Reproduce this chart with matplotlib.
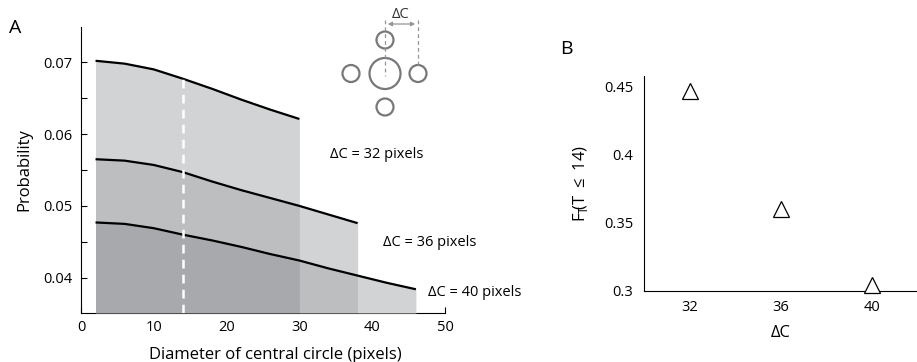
import matplotlib
matplotlib.use("Agg")
import matplotlib.pyplot as plt
from matplotlib.patches import Circle, FancyArrowPatch
import numpy as np

plt.rcParams['font.family'] = ['Open Sans', 'DejaVu Sans']
plt.rcParams['font.size'] = 10.5
plt.rcParams['mathtext.fontset'] = 'custom'
plt.rcParams['mathtext.rm'] = 'Open Sans'

# Panel A: probability vs diameter of the central circle, one curve per spacing
diam_32 = [2, 6, 10, 14, 18, 22, 26, 30]
prob_32 = [0.0702, 0.0698, 0.0690, 0.0677, 0.0663, 0.0648, 0.0634, 0.0621]
diam_36 = [2, 6, 10, 14, 18, 22, 26, 30, 34, 38]
prob_36 = [0.0565, 0.0563, 0.0557, 0.0547, 0.0534, 0.0522, 0.0511, 0.0500, 0.0488, 0.0476]
diam_40 = [2, 6, 10, 14, 18, 22, 26, 30, 34, 38, 42, 46]
prob_40 = [0.0477, 0.0475, 0.0469, 0.0460, 0.0452, 0.0443, 0.0433, 0.0424, 0.0413, 0.0403, 0.0393, 0.0384]
curve_labels = ["\u0394C = 32 pixels", "\u0394C = 36 pixels", "\u0394C = 40 pixels"]
marked_diameter = 14

# Panel B: cumulative value at T <= 14 for each spacing
delta_c = [32, 36, 40]
f_t = [0.447, 0.3603, 0.3042]

shade_colors = ['#d1d3d4', '#bcbec0', '#a7a9ac']
label_size = 12

fig = plt.figure(figsize=(9.17, 3.62), dpi=100)

# ---------------- Panel A ----------------
axA = fig.add_axes([0.0883, 0.1354, 0.397, 0.79])
curves = [(np.array(diam_32), np.array(prob_32)),
          (np.array(diam_36), np.array(prob_36)),
          (np.array(diam_40), np.array(prob_40))]
ends = [c[0][-1] for c in curves]
ylo = 0.0351

# shade: darker where more curves lie above a point
for k, (x, y) in enumerate(curves):
    starts = [x[0]] + [e for e in sorted(ends) if e < x[-1]]
    stops = [e for e in sorted(ends) if e <= x[-1]]
    for s0, s1 in zip(starts, stops):
        count = sum(1 for m in range(k + 1) if ends[m] >= s1)
        mask = (x >= s0) & (x <= s1)
        axA.fill_between(x[mask], ylo, y[mask], color=shade_colors[count - 1],
                         linewidth=0, zorder=1 + k)

for x, y in curves:
    axA.plot(x, y, color='black', lw=1.6, zorder=5, solid_capstyle='butt')

top_at_mark = np.interp(marked_diameter, curves[0][0], curves[0][1])
axA.plot([marked_diameter, marked_diameter], [ylo, top_at_mark], color='white',
         lw=1.8, ls=(0, (3.5, 2.5)), zorder=6)

label_pos = [(34.2, 0.0571), (41.5, 0.0449), (47.7, 0.0379)]
for (tx, ty), lab in zip(label_pos, curve_labels):
    axA.text(tx, ty, lab, ha='left', va='center', fontsize=10.5, clip_on=False)

axA.set_xlim(0, 50)
axA.set_ylim(ylo, 0.0749)
axA.set_xticks([0, 10, 20, 30, 40, 50])
axA.set_xticks([5, 15, 25, 35, 45], minor=True)
axA.set_yticks([0.04, 0.05, 0.06, 0.07])
axA.set_yticks([0.045, 0.055, 0.065], minor=True)
axA.set_yticklabels(['0.04', '0.05', '0.06', '0.07'])
axA.tick_params(which='both', direction='in', length=4, width=0.8, pad=6)
axA.tick_params(axis='x', pad=5)
for s in ['top', 'right']:
    axA.spines[s].set_visible(False)
for s in ['left', 'bottom']:
    axA.spines[s].set_linewidth(0.8)
axA.set_xlabel('Diameter of central circle (pixels)', fontsize=label_size, labelpad=9)
axA.xaxis.label.set_x(0.533)
axA.set_ylabel('Probability', fontsize=label_size, labelpad=8)

# ---------------- Panel B ----------------
axB = fig.add_axes([0.7026, 0.197, 0.2974, 0.594])
axB.plot(delta_c, f_t, linestyle='none', marker='^', markersize=12,
         markerfacecolor='white', markeredgecolor='black', markeredgewidth=0.9,
         clip_on=False, zorder=5)
axB.set_xlim(30, 42)
axB.set_ylim(0.3, 0.458)
axB.set_xticks(delta_c)
axB.set_yticks([0.3, 0.35, 0.4, 0.45])
axB.set_yticklabels(['0.3', '0.35', '0.4', '0.45'])
axB.tick_params(length=0, pad=8)
axB.tick_params(axis='x', pad=7)
for s in ['top', 'right']:
    axB.spines[s].set_visible(False)
for s in ['left', 'bottom']:
    axB.spines[s].set_linewidth(0.8)
axB.set_xlabel('\u0394C', fontsize=label_size, labelpad=7)
axB.set_ylabel(r'F$_{\mathrm{T}}\!$(T $\leq$ 14)', fontsize=label_size, labelpad=10)

# ---------------- Overlay: panel letters and stimulus sketch ----------------
ov = fig.add_axes([0, 0, 1, 1])
ov.set_xlim(0, 917)
ov.set_ylim(362, 0)
ov.axis('off')
ov.patch.set_alpha(0)

ov.text(15, 28, 'A', fontsize=14, ha='center', va='center')
ov.text(566, 49, 'B', fontsize=14, ha='center', va='center')

gray = '#77787b'
ov.add_patch(Circle((385, 73.5), 15.5, fill=False, ec=gray, lw=1.6))
for cx, cy in [(385, 40), (351, 73.5), (418, 73.5), (385, 107)]:
    ov.add_patch(Circle((cx, cy), 8.5, fill=False, ec=gray, lw=1.6))
dash_gray = '#939598'
ov.plot([385, 385], [20, 76], color=dash_gray, lw=0.9, ls=(0, (3, 2.5)))
ov.plot([418, 418], [20, 65], color=dash_gray, lw=0.9, ls=(0, (3, 2.5)))
ov.add_patch(FancyArrowPatch((385, 24), (418, 24), arrowstyle='<|-|>',
                             mutation_scale=6, color=dash_gray, lw=0.9))
ov.text(401, 14, '\u0394C', fontsize=10.5, ha='center', va='center', color='#333333')

fig.savefig('out.png', dpi=100)
